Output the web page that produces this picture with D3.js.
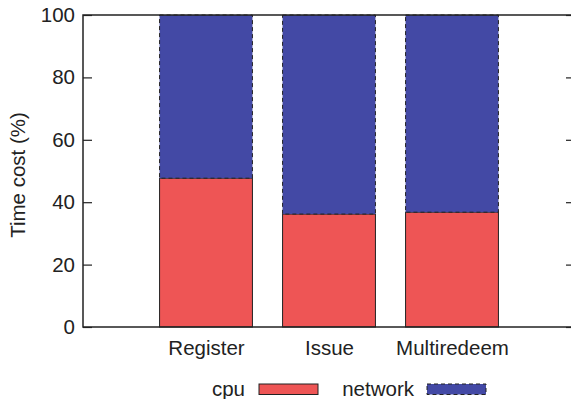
<!DOCTYPE html>
<html>
<head>
<meta charset="utf-8">
<script src="https://cdn.jsdelivr.net/npm/d3@7"></script>
<style>
  html, body { margin: 0; padding: 0; background: #fff; }
  svg { display: block; }
  text { font-family: "Liberation Sans", Arial, Helvetica, sans-serif; fill: #222; }
</style>
</head>
<body>
<svg id="chart" width="571" height="399"></svg>
<script>
// Stacked share of time per operation
const categories = ["Register", "Issue", "Multiredeem"];
const cpu = [47.7, 36.2, 36.8];
const network = [52.3, 63.8, 63.2];
const yTicks = [0, 20, 40, 60, 80, 100];
const seriesNames = ["cpu", "network"];

const W = 571, H = 399;
const margin = { left: 83, top: 15, right: -4, bottom: 72 };
const svg = d3.select("#chart");

const x = d3.scaleLinear().domain([0, categories.length + 1]).range([margin.left, W - margin.right]);
const y = d3.scaleLinear().domain([0, 100]).range([H - margin.bottom, margin.top]);
const barW = (x(1) - x(0)) * 0.755;

const colors = { cpu: "#ee5555", network: "#4349a5" };
const fontSize = 20.5;

// bars: cpu at the bottom, network stacked on top
const g = svg.append("g");
categories.forEach((c, i) => {
  const cx = x(i + 1);
  g.append("rect")
    .attr("x", cx - barW / 2).attr("width", barW)
    .attr("y", y(cpu[i])).attr("height", y(0) - y(cpu[i]))
    .attr("fill", colors.cpu).attr("stroke", "#222").attr("stroke-width", 1);
  g.append("rect")
    .attr("x", cx - barW / 2).attr("width", barW)
    .attr("y", y(cpu[i] + network[i])).attr("height", y(cpu[i]) - y(cpu[i] + network[i]))
    .attr("fill", colors.network).attr("stroke", "#222").attr("stroke-width", 1)
    .attr("stroke-dasharray", "4,3");
});

// frame around the plot
svg.append("rect")
  .attr("x", x(0)).attr("y", y(100))
  .attr("width", x(categories.length + 1) - x(0)).attr("height", y(0) - y(100))
  .attr("fill", "none").attr("stroke", "#222").attr("stroke-width", 1.5);

// left axis, ticks pointing inward
const yAxis = d3.axisLeft(y).tickValues(yTicks).tickSize(-9).tickPadding(8);
const ya = svg.append("g").attr("transform", `translate(${x(0)},0)`).call(yAxis);
ya.select(".domain").remove();
ya.selectAll("line").attr("stroke", "#222").attr("stroke-width", 1.2);
ya.selectAll("text").style("font-size", fontSize + "px").attr("fill", "#222");

// right side mirrored ticks
const yAxisR = d3.axisRight(y).tickValues(yTicks).tickSize(-9).tickFormat("");
const yr = svg.append("g").attr("transform", `translate(${x(categories.length + 1)},0)`).call(yAxisR);
yr.select(".domain").remove();
yr.selectAll("line").attr("stroke", "#222").attr("stroke-width", 1.2);

// category labels
const xAxis = d3.axisBottom(x).tickValues(categories.map((_, i) => i + 1))
  .tickFormat((d) => categories[d - 1]).tickSize(0).tickPadding(13);
const xa = svg.append("g").attr("transform", `translate(0,${y(0)})`).call(xAxis);
xa.select(".domain").remove();
xa.selectAll("text").style("font-size", fontSize + "px").attr("fill", "#222");

// y axis title
svg.append("text")
  .attr("transform", `translate(25,${(y(0) + y(100)) / 2 + 4}) rotate(-90)`)
  .attr("text-anchor", "middle")
  .style("font-size", fontSize + "px")
  .text("Time cost (%)");

// legend
const legend = [
  { name: seriesNames[0], textX: 245, sx: 259, dash: null },
  { name: seriesNames[1], textX: 414, sx: 427, dash: "4,3" }
];
legend.forEach((l) => {
  svg.append("text").attr("x", l.textX).attr("y", 396)
    .attr("text-anchor", "end").style("font-size", fontSize + "px").text(l.name);
  svg.append("rect").attr("x", l.sx).attr("y", 384).attr("width", 59).attr("height", 10.5)
    .attr("fill", colors[l.name]).attr("stroke", "#222").attr("stroke-width", 1)
    .attr("stroke-dasharray", l.dash);
});
</script>
</body>
</html>
